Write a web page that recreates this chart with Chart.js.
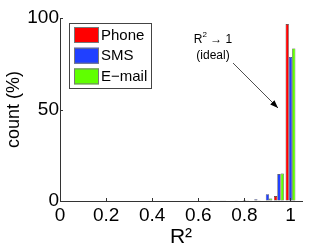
<!DOCTYPE html>
<html>
<head>
<meta charset="utf-8">
<script src="https://cdn.jsdelivr.net/npm/chart.js@4/dist/chart.umd.min.js"></script>
<style>
html,body{margin:0;padding:0;background:#fff;}
#wrap{width:332px;height:250px;}
</style>
</head>
<body>
<div id="wrap"><canvas id="c" width="332" height="250"></canvas></div>
<script>
// Histogram bin centres (R^2)
const bins = [0.65, 0.70, 0.75, 0.80, 0.85, 0.90, 0.95, 1.00];
// count (%) per bin
const phone = [0, 0, 0, 0, 0, 0.3, 2.7, 96.7];
const sms   = [0.2, 0.2, 0.3, 0.5, 1.0, 3.7, 14.7, 78.7];
const email = [0, 0.1, 0.1, 0.1, 0.2, 1.3, 15.0, 83.4];
const seriesNames = ['Phone', 'SMS', 'E\u2212mail'];
const xTicks = [0, 0.2, 0.4, 0.6, 0.8, 1];
const xTickLabels = ['0', '0.2', '0.4', '0.6', '0.8', '1'];
const yTicks = [0, 50, 100];
const yTickLabels = ['0', '50', '100'];

const colors = ['#ff0000', '#2040ff', '#60ff00'];
const FONT = "'Liberation Sans', Arial, Helvetica, sans-serif";

function mk(vals){ return bins.map((b,i)=>({x:b, y:vals[i]})); }

const legendPlugin = {
  id: 'boxLegend',
  afterDraw(chart){
    const ctx = chart.ctx;
    ctx.save();
    const x0 = 69.5, y0 = 23.5, w = 82, h = 65;
    ctx.fillStyle = '#fff';
    ctx.fillRect(x0, y0, w, h);
    ctx.strokeStyle = '#444';
    ctx.lineWidth = 1;
    ctx.strokeRect(x0, y0, w, h);
    chart.data.datasets.forEach((ds, i) => {
      const sy = 27 + i*20.7;
      ctx.fillStyle = ds.backgroundColor;
      ctx.fillRect(74, sy, 25, 16);
      ctx.strokeStyle = '#777';
      ctx.lineWidth = 1;
      ctx.strokeRect(74.5, sy + 0.5, 24, 15);
      ctx.fillStyle = '#000';
      ctx.font = '15px ' + FONT;
      ctx.textBaseline = 'middle';
      ctx.textAlign = 'left';
      ctx.fillText(ds.label, 101, sy + 8.5);
    });
    ctx.restore();
  }
};

const annotPlugin = {
  id: 'annot',
  afterDraw(chart){
    const ctx = chart.ctx;
    ctx.save();
    ctx.fillStyle = '#000';
    ctx.textBaseline = 'middle';
    // "R^2 -> 1" with a real superscript
    ctx.font = '12px ' + FONT;
    const a = 'R', c = ' \u2192 1';
    ctx.font = '12px ' + FONT; const wa = ctx.measureText(a).width;
    ctx.font = '8px ' + FONT;  const wb = ctx.measureText('2').width;
    ctx.font = '12px ' + FONT; const wc = ctx.measureText(c).width;
    let sx = 213 - (wa + wb + wc) / 2;
    ctx.textAlign = 'left';
    ctx.fillText(a, sx, 40);
    ctx.font = '8px ' + FONT;
    ctx.fillText('2', sx + wa, 35);
    ctx.font = '12px ' + FONT;
    ctx.fillText(c, sx + wa + wb, 40);
    ctx.textAlign = 'center';
    ctx.fillText('(ideal)', 213, 56);
    // arrow
    const x1 = 233, y1 = 63, x2 = 278, y2 = 108;
    ctx.strokeStyle = '#222';
    ctx.lineWidth = 0.8;
    ctx.beginPath();
    ctx.moveTo(x1, y1);
    ctx.lineTo(x2, y2);
    ctx.stroke();
    const ang = Math.atan2(y2 - y1, x2 - x1);
    const L = 8, W = 3;
    ctx.beginPath();
    ctx.moveTo(x2, y2);
    ctx.lineTo(x2 - L*Math.cos(ang) + W*Math.sin(ang), y2 - L*Math.sin(ang) - W*Math.cos(ang));
    ctx.lineTo(x2 - L*Math.cos(ang) - W*Math.sin(ang), y2 - L*Math.sin(ang) + W*Math.cos(ang));
    ctx.closePath();
    ctx.fillStyle = '#000';
    ctx.fill();
    ctx.restore();
  }
};

const tickPlugin = {
  id: 'innerTicks',
  afterDraw(chart){
    const ctx = chart.ctx;
    const xs = chart.scales.x, ys = chart.scales.y;
    ctx.save();
    ctx.strokeStyle = '#333';
    ctx.lineWidth = 1;
    ctx.beginPath();
    xs.ticks.forEach(t => {
      const px = Math.round(xs.getPixelForValue(t.value)) + 0.5;
      ctx.moveTo(px, ys.bottom);
      ctx.lineTo(px, ys.bottom - 3);
    });
    ys.ticks.forEach(t => {
      const py = Math.round(ys.getPixelForValue(t.value)) + 0.5;
      ctx.moveTo(xs.left, py);
      ctx.lineTo(xs.left + 3, py);
    });
    ctx.stroke();
    ctx.restore();
  }
};

new Chart(document.getElementById('c'), {
  type: 'bar',
  data: {
    datasets: [
      {label: seriesNames[0], data: mk(phone), backgroundColor: colors[0]},
      {label: seriesNames[1], data: mk(sms), backgroundColor: colors[1]},
      {label: seriesNames[2], data: mk(email), backgroundColor: colors[2]}
    ]
  },
  options: {
    responsive: false,
    animation: false,
    devicePixelRatio: 1,
    layout: {padding: {left: 0, right: 30, top: 18, bottom: 0}},
    datasets: {bar: {
      categoryPercentage: 0.85,
      barPercentage: 1.0,
      borderWidth: 0.6,
      borderColor: '#333',
      borderSkipped: false,
      grouped: true
    }},
    plugins: {
      legend: {display: false},
      tooltip: {enabled: false}
    },
    scales: {
      x: {
        type: 'linear',
        min: 0, max: 1.05,
        offset: false,
        grid: {display: true, drawOnChartArea: false, drawTicks: false},
        border: {display: true, color: '#333', width: 1},
        afterBuildTicks: s => { s.ticks = xTicks.map(v => ({value: v})); },
        ticks: {
          autoSkip: false, maxRotation: 0,
          padding: 3,
          color: '#000',
          font: {family: FONT, size: 19},
          callback: (v) => xTickLabels[xTicks.indexOf(v)]
        },
        title: {display: true, text: 'R\u00b2', color: '#000', font: {family: FONT, size: 21}, padding: {top: 0, bottom: 0}},
        afterFit: s => { s.height = 49; }
      },
      y: {
        min: 0, max: 100,
        grid: {display: true, drawOnChartArea: false, drawTicks: false},
        border: {display: true, color: '#333', width: 1},
        afterBuildTicks: s => { s.ticks = yTicks.map(v => ({value: v})); },
        ticks: {
          padding: 1,
          color: '#000',
          font: {family: FONT, size: 19},
          callback: (v) => yTickLabels[yTicks.indexOf(v)]
        },
        title: {display: true, text: 'count (%)', color: '#000', font: {family: FONT, size: 18}, padding: {top: 3, bottom: 0}},
        afterFit: s => { s.width = 60; }
      }
    }
  },
  plugins: [legendPlugin, annotPlugin, tickPlugin]
});
</script>
</body>
</html>
